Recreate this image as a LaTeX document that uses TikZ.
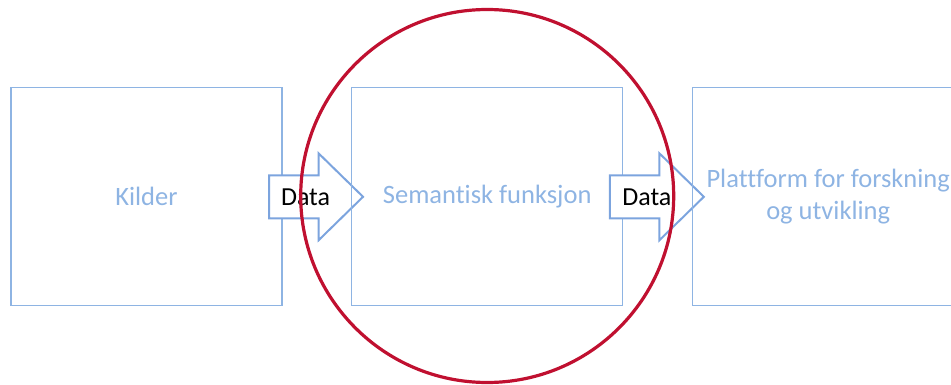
\documentclass[tikz,border=0pt]{standalone}
\usepackage{fontspec}
\setmainfont{Carlito}[Ligatures={NoCommon}]
\usetikzlibrary{calc}
\definecolor{boxblue}{RGB}{142,180,227}
\definecolor{arrblue}{RGB}{124,164,222}
\definecolor{ringred}{RGB}{192,16,48}
\tikzset{
  stage/.style={draw=boxblue, line width=1.3pt, minimum width=271pt, minimum height=218pt,
    inner sep=0pt, text=boxblue, font=\fontsize{26.5}{32.5}\selectfont, align=center},
  blockarrow/.style={draw=arrblue, line width=2pt, fill=white, line join=miter},
  datalabel/.style={font=\fontsize{26}{32.5}\selectfont, text=black, inner sep=0pt},
  ring/.style={draw=ringred, line width=3.2pt, circle, minimum size=373pt, inner sep=0pt}
}
\begin{document}
\begin{tikzpicture}[x=1pt,y=-1pt]
  \clip (0,0) rectangle (951,385);
  \node[stage] (kilder) at (146.4,196.8) {Kilder};
  \path[blockarrow] ($(kilder.east)+(-13.5,-21.5)$) -- ++(49.5,0) -- ++(0,-22)
     -- ++(44.5,43.5) -- ++(-44.5,43.5) -- ++(0,-22) -- ++(-49.5,0) -- cycle;
  \node[datalabel] (data1) at ($(kilder.east)+(23,0)$) {Data};
  \node[stage] (semantisk) at (487.2,196.8) {Semantisk funksjon};
  \path[blockarrow] ($(semantisk.east)+(-13.5,-21.5)$) -- ++(49.5,0) -- ++(0,-22)
     -- ++(44.5,43.5) -- ++(-44.5,43.5) -- ++(0,-22) -- ++(-49.5,0) -- cycle;
  \node[datalabel] (data2) at ($(semantisk.east)+(23.5,0)$) {Data};
  \node[stage] (plattform) at (828.2,196.8) {Plattform for forskning\\og utvikling};
  \node[ring] (focus) at (487.2,196) {};
\end{tikzpicture}
\end{document}
